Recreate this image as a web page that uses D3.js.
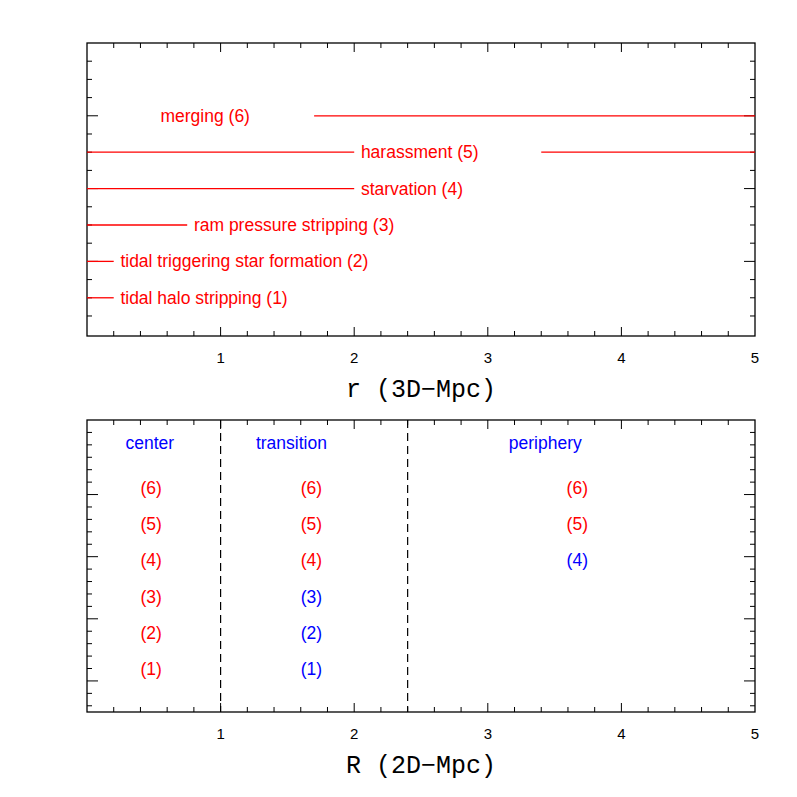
<!DOCTYPE html><html><head><meta charset="utf-8">
<script src="https://cdn.jsdelivr.net/npm/d3@7"></script>
<style>body{margin:0;background:#fff}text{font-family:"Liberation Sans",Arial,sans-serif}</style></head><body>
<script>
const xTicks=[1,2,3,4,5];
const mechanisms=["tidal halo stripping (1)","tidal triggering star formation (2)","ram pressure stripping (3)","starvation (4)","harassment (5)","merging (6)"];
const labelX=[0.25,0.25,0.8,2.05,2.05,0.55];
const segments=[[1,0,0.2],[2,0,0.2],[3,0,0.75],[4,0,2.0],[5,0,2.0],[5,3.4,5],[6,1.7,5]];
const regions=["center","transition","periphery"];
const regionHeaderX=[0.47,1.53,3.43];
const regionX=[0.48,1.68,3.67];
const boundaries=[1,2.4];
const regionRows=[[1,2,3,4,5,6],[1,2,3,4,5,6],[4,5,6]];
const blueSets=[[],[1,2,3],[4]];
const W=797,svg=d3.select("body").append("svg").attr("width",W).attr("height",W);
const x=d3.scaleLinear().domain([0,5]).range([87,755]);
function frame(top,bot,y,majors,minors,xlabel){
  const g=svg.append("g");
  g.append("rect").attr("x",87).attr("y",top).attr("width",668).attr("height",bot-top).attr("fill","none").attr("stroke","#000").attr("stroke-width",1.3);
  d3.range(0.2,5,0.2).forEach(v=>{const maj=Math.abs(v-Math.round(v))<1e-6;const L=maj?9:5;
    g.append("line").attr("x1",x(v)).attr("x2",x(v)).attr("y1",bot).attr("y2",bot-L).attr("stroke","#000");
    g.append("line").attr("x1",x(v)).attr("x2",x(v)).attr("y1",top).attr("y2",top+L).attr("stroke","#000");});
  minors.forEach(v=>{const maj=majors.includes(v);const L=maj?11:5;
    g.append("line").attr("x1",87).attr("x2",87+L).attr("y1",y(v)).attr("y2",y(v)).attr("stroke","#000");
    g.append("line").attr("x1",755).attr("x2",755-L).attr("y1",y(v)).attr("y2",y(v)).attr("stroke","#000");});
  xTicks.forEach(t=>g.append("text").attr("x",x(t)).attr("y",bot+27).attr("text-anchor","middle").attr("font-size",15).text(t));
  g.append("text").attr("x",421).attr("y",bot+61).attr("text-anchor","middle").attr("font-size",25).style("font-family","'Liberation Mono','DejaVu Sans Mono',monospace").text(xlabel);
}
const y1=d3.scaleLinear().domain([-0.05,8.0]).range([336,43]);
frame(43,336,y1,[2,4,6],d3.range(0.5,8,0.5),"r (3D\u2212Mpc)");
segments.forEach(s=>svg.append("line").attr("x1",x(s[1])).attr("x2",x(s[2])).attr("y1",y1(s[0])).attr("y2",y1(s[0])).attr("stroke","red").attr("stroke-width",1.3));
mechanisms.forEach((m,i)=>svg.append("text").attr("x",x(labelX[i])).attr("y",y1(i+1)+6).attr("font-size",17.5).attr("fill","red").text(m));
const y2=d3.scaleLinear().domain([-0.5,4.2]).range([712,420]);
frame(420,712,y2,[0,1,2,3],d3.range(-0.4,4.2,0.2).map(v=>Math.round(v*10)/10),"R (2D\u2212Mpc)");
const row=d3.scaleLinear().domain([1,6]).range([669,488]);
boundaries.forEach(b=>svg.append("line").attr("x1",x(b)).attr("x2",x(b)).attr("y1",420).attr("y2",712).attr("stroke","#000").attr("stroke-dasharray","8,5").attr("stroke-width",1.2));
regions.forEach((r,i)=>{
  svg.append("text").attr("x",x(regionHeaderX[i])).attr("y",449).attr("text-anchor","middle").attr("font-size",17.5).attr("fill","blue").text(r);
  regionRows[i].forEach(k=>svg.append("text").attr("x",x(regionX[i])).attr("y",row(k)+6).attr("text-anchor","middle").attr("font-size",17.5).attr("fill",blueSets[i].includes(k)?"blue":"red").text("("+k+")"));
});
</script></body></html>
